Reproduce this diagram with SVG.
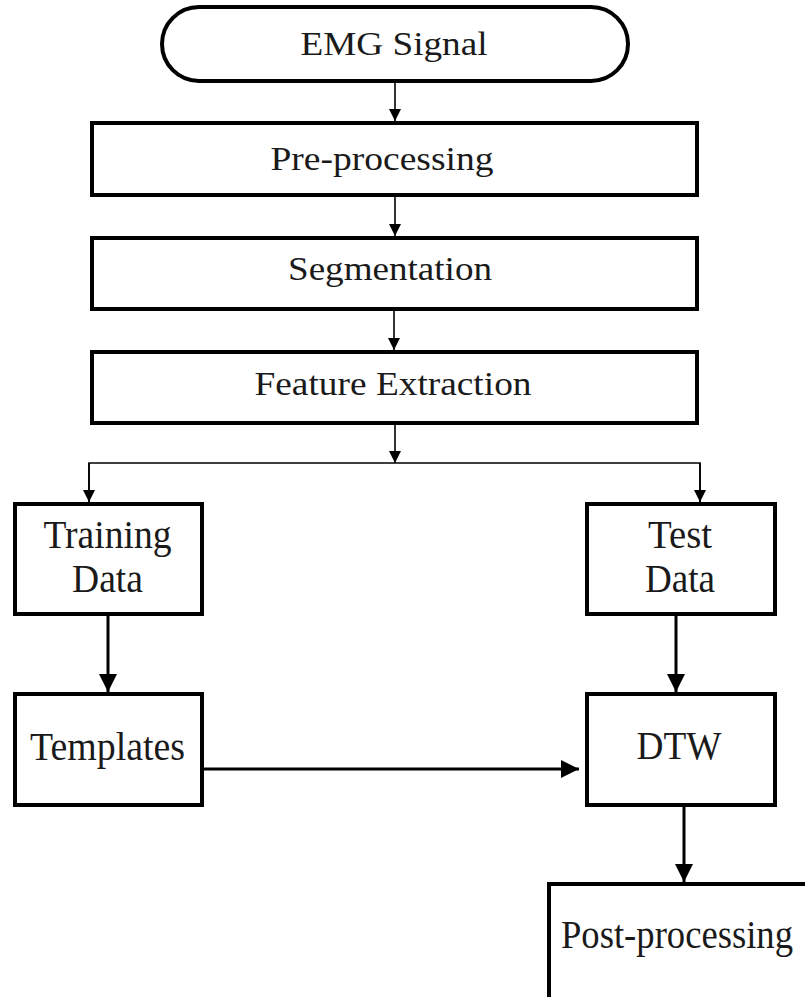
<svg xmlns="http://www.w3.org/2000/svg" width="805" height="997" viewBox="0 0 805 997">
<style>
.box{fill:#fff;stroke:#000;stroke-width:4}
.t{font-family:"Liberation Serif","Times New Roman",serif;fill:#1a1a1a;text-anchor:middle}
.up{font-size:34px}
.lo{font-size:41px}
.thin{stroke:#000;stroke-width:1.6;fill:none}
.thick{stroke:#000;stroke-width:3;fill:none}
</style>
<defs>
<marker id="ah" markerUnits="userSpaceOnUse" markerWidth="12" markerHeight="12" refX="12" refY="6" orient="auto"><path d="M0,0 L12,6 L0,12 Z" fill="#000"/></marker>
<marker id="ahb" markerUnits="userSpaceOnUse" markerWidth="18" markerHeight="18" refX="18" refY="9" orient="auto"><path d="M0,0 L18,9 L0,18 Z" fill="#000"/></marker>
</defs>
<rect width="805" height="997" fill="#fff"/>
<g id="connectors">
<line class="thin" x1="395" y1="83" x2="395" y2="121" marker-end="url(#ah)"/>
<line class="thin" x1="395" y1="197" x2="395" y2="236" marker-end="url(#ah)"/>
<line class="thin" x1="394" y1="311" x2="394" y2="350" marker-end="url(#ah)"/>
<line class="thin" x1="395" y1="425" x2="395" y2="463" marker-end="url(#ah)"/>
<polyline class="thin" points="89,502 89,463 700,463 700,502"/>
<line class="thin" x1="89" y1="463" x2="89" y2="502" marker-end="url(#ah)"/>
<line class="thin" x1="700" y1="463" x2="700" y2="502" marker-end="url(#ah)"/>
<line class="thick" x1="108" y1="616" x2="108" y2="692" marker-end="url(#ahb)"/>
<line class="thick" x1="676" y1="616" x2="676" y2="692" marker-end="url(#ahb)"/>
<line class="thick" x1="684" y1="807" x2="684" y2="882" marker-end="url(#ahb)"/>
<line class="thick" x1="204" y1="769" x2="579" y2="769" marker-end="url(#ahb)"/>
</g>
<g id="emg">
<rect class="box" x="162" y="7" width="466" height="74" rx="37" ry="37"/>
<text class="t up" x="394" y="55" textLength="187" lengthAdjust="spacingAndGlyphs">EMG Signal</text>
</g>
<g id="preprocessing">
<rect class="box" x="92" y="123" width="605" height="72"/>
<text class="t up" x="382" y="170" textLength="223" lengthAdjust="spacingAndGlyphs">Pre-processing</text>
</g>
<g id="segmentation">
<rect class="box" x="92" y="238" width="605" height="71"/>
<text class="t up" x="390" y="280" textLength="204" lengthAdjust="spacingAndGlyphs">Segmentation</text>
</g>
<g id="feature">
<rect class="box" x="92" y="352" width="605" height="71"/>
<text class="t up" x="393" y="395" textLength="277" lengthAdjust="spacingAndGlyphs">Feature Extraction</text>
</g>
<g id="training">
<rect class="box" x="15" y="504" width="187" height="110"/>
<text class="t lo" x="107.5" y="548" textLength="128" lengthAdjust="spacingAndGlyphs">Training</text>
<text class="t lo" x="107.5" y="592" textLength="71" lengthAdjust="spacingAndGlyphs">Data</text>
</g>
<g id="test">
<rect class="box" x="587" y="504" width="188" height="110"/>
<text class="t lo" x="680" y="548" textLength="64" lengthAdjust="spacingAndGlyphs">Test</text>
<text class="t lo" x="680" y="592" textLength="70" lengthAdjust="spacingAndGlyphs">Data</text>
</g>
<g id="templates">
<rect class="box" x="15" y="694" width="187" height="111"/>
<text class="t lo" x="107.5" y="760" textLength="155" lengthAdjust="spacingAndGlyphs">Templates</text>
</g>
<g id="dtw">
<rect class="box" x="587" y="694" width="188" height="111"/>
<text class="t lo" x="679" y="759" textLength="85" lengthAdjust="spacingAndGlyphs">DTW</text>
</g>
<g id="postprocessing">
<rect class="box" x="549" y="884" width="300" height="200"/>
<text class="t lo" x="561" y="948" style="text-anchor:start" textLength="232" lengthAdjust="spacingAndGlyphs">Post-processing</text>
</g>
</svg>
